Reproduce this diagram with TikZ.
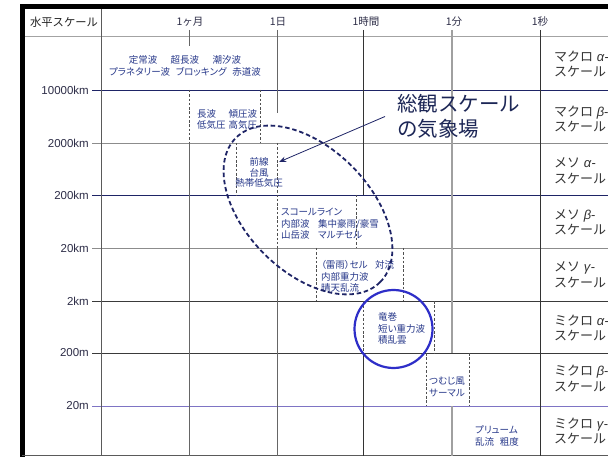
\documentclass[tikz,border=0pt]{standalone}
\usepackage{fontspec}
\setmainfont{Liberation Sans}
\newfontfamily\jpfont{Noto Sans CJK JP}
\newfontfamily\jpsmall[RawFeature=+palt]{Noto Sans CJK JP}
\usetikzlibrary{arrows.meta}
\definecolor{cNavy}{HTML}{1E2466}
\definecolor{cNavyT}{HTML}{1C2656}
\definecolor{cTxt}{HTML}{27388A}
\definecolor{cLab}{HTML}{2E2E48}
\definecolor{cScale}{HTML}{333333}
\definecolor{cHead}{HTML}{222222}
\definecolor{cGray}{HTML}{8C8C8C}
\definecolor{cDark}{HTML}{3A3A3A}
\definecolor{cPurp}{HTML}{7E74C4}
\definecolor{cV1}{HTML}{5A5A5A}
\definecolor{cV2}{HTML}{666666}
\definecolor{cV3}{HTML}{333333}
\definecolor{cV4}{HTML}{A0A0A0}
\definecolor{cDash}{HTML}{505050}
\definecolor{cCirc}{HTML}{2E2EC8}
\begin{document}
\begin{tikzpicture}[x=1pt,y=-1pt,
  gl/.style={line width=0.9pt},
  boxedge/.style={draw=cDash, line width=0.7pt, dash pattern=on 2.5pt off 1.8pt},
  phen/.style={font=\jpsmall\fontsize{9.5}{11.5}\selectfont, text=cTxt, inner sep=0pt, align=left, anchor=west},
  kmlab/.style={font=\fontsize{11.5}{13}\selectfont, text=cLab, anchor=east, inner sep=0pt},
  timelab/.style={font=\jpfont\fontsize{10.5}{12}\selectfont, text=cLab, inner sep=0pt},
  scalelab/.style={font=\fontsize{13}{15.5}\selectfont, text=cScale, anchor=west, align=left, inner sep=0pt},
  ell/.style={draw=cNavy, line width=1.8pt, dash pattern=on 4.5pt off 2.8pt},
]
\useasboundingbox (0,0) rectangle (608,457);
\clip (0,0) rectangle (608,457);
\fill[white] (0,0) rectangle (608,457);

% frame
\draw[line width=5pt, line join=miter] (22.5,457) -- (22.5,6.5) -- (608,6.5);
\draw[gl, draw=cV1] (22,455.5) -- (608,455.5);

% horizontal lines
\draw[gl, draw=cGray!80] (25,36) -- (608,36);
\draw[gl, draw=cNavy] (92,90) -- (608,90);
\draw[gl, draw=cGray] (92,143) -- (608,143);
\draw[gl, draw=cNavy] (92,195) -- (608,195);
\draw[gl, draw=cGray] (92,248) -- (608,248);
\draw[gl, draw=cDark] (92,301) -- (608,301);
\draw[gl, draw=cDark] (92,353) -- (608,353);
\draw[gl, draw=cPurp] (92,406) -- (608,406);

% vertical lines
\draw[gl, draw=cV1] (101,9) -- (101,456);
\draw[gl, draw=cV2] (189,30) -- (189,46);
\draw[gl, draw=cV2] (189,143) -- (189,456);
\draw[gl, draw=cV2] (277,30) -- (277,113);
\draw[gl, draw=cV2] (277,248) -- (277,456);
\draw[gl, draw=cV3] (363,30) -- (363,195);
\draw[gl, draw=cV3] (363,353) -- (363,456);
\draw[line width=1.6pt, draw=cV4] (452,30) -- (452,353);
\draw[line width=1.6pt, draw=cV4] (452,406) -- (452,456);
\draw[gl, draw=cV3] (540,30) -- (540,456);

% dashed box edges
\draw[boxedge] (189,90) -- (189,143);
\draw[boxedge] (260,90) -- (260,143);
\draw[boxedge] (236,143) -- (236,195);
\draw[boxedge] (277,143) -- (277,248);
\draw[boxedge] (356,195) -- (356,248);
\draw[boxedge] (316,248) -- (316,301);
\draw[boxedge] (403,248) -- (403,301);
\draw[boxedge] (363,301) -- (363,353);
\draw[boxedge] (434,301) -- (434,353);
\draw[boxedge] (426,353) -- (426,406);
\draw[boxedge] (469,353) -- (469,406);

% header
\node[font=\jpfont\fontsize{11.3}{13}\selectfont, text=cHead, inner sep=0pt] (head) at (64,22.5) {水平スケール};
\node[timelab] (t1) at (190,21.5) {1ヶ月};
\node[timelab] (t2) at (278,21.5) {1日};
\node[timelab] (t3) at (366,21.5) {1時間};
\node[timelab] (t4) at (454,21.5) {1分};
\node[timelab] (t5) at (540,21.5) {1秒};

% km labels
\node[kmlab] (k1) at (89,90) {10000km};
\node[kmlab] (k2) at (89,143) {2000km};
\node[kmlab] (k3) at (89,195) {200km};
\node[kmlab] (k4) at (89,248) {20km};
\node[kmlab] (k5) at (89,301) {2km};
\node[kmlab] (k6) at (89,353) {200m};
\node[kmlab] (k7) at (89,406) {20m};

% scale names
\node[scalelab] (s1) at (554,64) {{\jpfont マクロ} \textit{α}-\\{\jpfont スケール}};
\node[scalelab] (s2) at (554,119) {{\jpfont マクロ} \textit{β}-\\{\jpfont スケール}};
\node[scalelab] (s3) at (554,171) {{\jpfont メソ} \textit{α}-\\{\jpfont スケール}};
\node[scalelab] (s4) at (554,222.5) {{\jpfont メソ} \textit{β}-\\{\jpfont スケール}};
\node[scalelab] (s5) at (554,275) {{\jpfont メソ} \textit{γ}-\\{\jpfont スケール}};
\node[scalelab] (s6) at (554,328) {{\jpfont ミクロ} \textit{α}-\\{\jpfont スケール}};
\node[scalelab] (s7) at (554,378.5) {{\jpfont ミクロ} \textit{β}-\\{\jpfont スケール}};
\node[scalelab] (s8) at (554,431) {{\jpfont ミクロ} \textit{γ}-\\{\jpfont スケール}};

% phenomena
\node[phen, anchor=center, align=center] (p1) at (185,66) {定常波\hspace{1.4em}超長波\hspace{1.4em}潮汐波\\プラネタリー波\hspace{0.6em}ブロッキング\hspace{0.6em}赤道波};
\node[phen] (p2) at (197,119.5) {長波\hspace{1.3em}傾圧波\\低気圧\hspace{0.3em}高気圧};
\node[phen, anchor=center, align=center, font=\jpsmall\fontsize{9.5}{10.7}\selectfont] (p3) at (259,172.5) {前線\\台風\\熱帯低気圧};
\node[phen] (p4) at (281,224) {スコールライン\\内部波\hspace{0.9em}集中豪雨/豪雪\\山岳波\hspace{0.9em}マルチセル};
\node[phen] (p5) at (321,276.5) {（雷雨）セル\hspace{0.8em}対流\\内部重力波\\晴天乱流};
\node[phen] (p6) at (378,328.5) {竜巻\\短い重力波\\積乱雲};
\node[phen] (p7) at (429,387) {つむじ風\\サーマル};
\node[phen] (p8) at (475,436) {プリューム\\乱流\hspace{0.6em}粗度};

% synoptic ellipse and label
\draw[ell, rotate around={-45:(308,210)}] (308,210) ellipse [x radius=102pt, y radius=62pt];
\node[anchor=west, font=\jpfont\fontsize{20.5}{25}\selectfont, text=cNavyT, align=left, inner sep=0pt] (syn) at (397,116.5) {総観スケール\\の気象場};
\coordinate (tip) at (279,162);
\draw[line width=0.8pt, draw=cNavy, -{Stealth[length=7pt,width=5.5pt]}] ([xshift=-12pt]syn.west) -- (tip);

% blue circle
\draw[line width=2.2pt, draw=cCirc] (393.5,329) circle [radius=39pt];
\end{tikzpicture}
\end{document}
